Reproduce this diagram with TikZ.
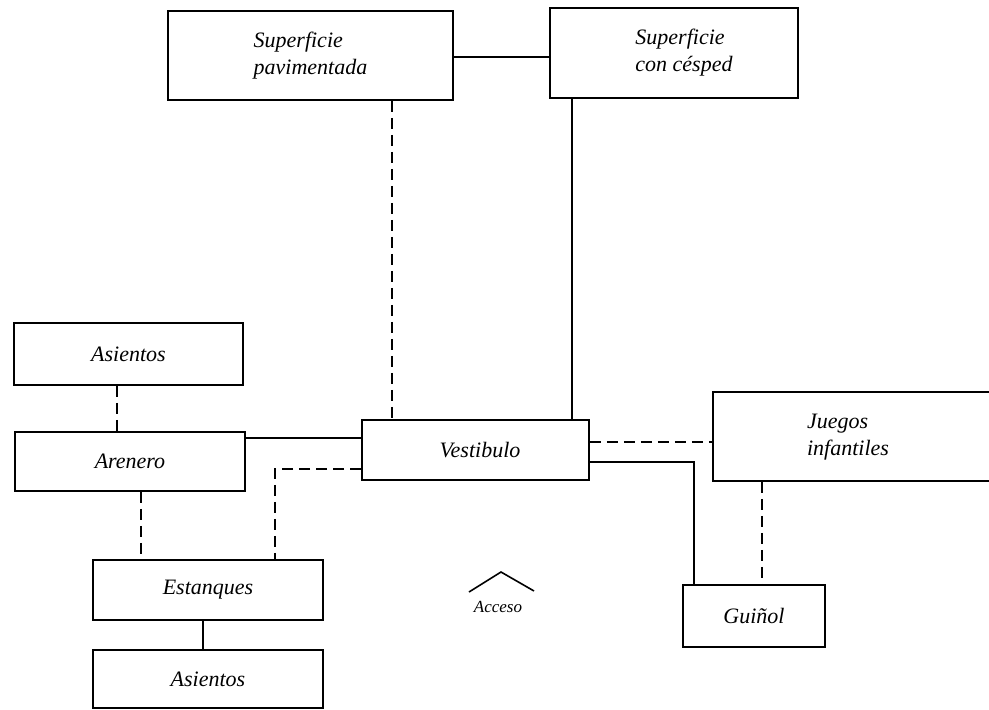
\documentclass[tikz,border=0pt]{standalone}
\usepackage{fontspec}
\setmainfont{Liberation Serif}
\begin{document}
\begin{tikzpicture}[x=1pt,y=-1pt,
  box/.style={draw,line width=1.6pt,rectangle,inner sep=0pt,font=\fontsize{22}{27}\selectfont\itshape,align=left},
  txt/.style={inner sep=0pt,font=\fontsize{22}{27}\selectfont\itshape,align=left},
  link/.style={line width=1.6pt},
  dlink/.style={line width=1.6pt,dash pattern=on 11pt off 6pt}]
\useasboundingbox (0,0) rectangle (989,710);
\begin{scope}
\clip (0,0) rectangle (989,710);
% boxes
\node[box,minimum width=285pt,minimum height=89pt] (pav) at (310.5,55.5) {Superficie\\pavimentada};
\node[box,minimum width=248pt,minimum height=90pt] (ces) at (674,53) {};
\node[txt] (cestxt) at (684,53) {Superficie\\con césped};
\node[box,minimum width=227pt,minimum height=60pt] (ves) at (475.5,450) {};
\node[txt] (vestxt) at (480,450) {Vestibulo};
\node[box,minimum width=229pt,minimum height=62pt] (asi1) at (128.5,354) {Asientos};
\node[box,minimum width=230pt,minimum height=59pt] (are) at (130,461.5) {Arenero};
\node[box,minimum width=230pt,minimum height=60pt] (est) at (208,590) {Estanques};
\node[box,minimum width=230pt,minimum height=58pt] (asi2) at (208,679) {Asientos};
\node[box,minimum width=300pt,minimum height=89pt] (jue) at (863,436.5) {};
\node[txt] (juetxt) at (848,437) {Juegos\\infantiles};
\node[box,minimum width=142pt,minimum height=62pt] (gui) at (754,616) {Guiñol};
% connectors
\draw[link] (pav.east |- 0,57) -- (ces.west |- 0,57);
\draw[dlink] (pav.south -| 392,0) -- (ves.north -| 392,0);
\draw[link] (ces.south -| 572,0) -- (ves.north -| 572,0);
\draw[dlink] (asi1.south -| 117,0) -- (are.north -| 117,0);
\draw[link] (are.east |- 0,438) -- (ves.west |- 0,438);
\draw[dlink] (ves.west |- 0,469) -| (est.north -| 275,0);
\draw[dlink] (are.south -| 141,0) -- (est.north -| 141,0);
\draw[link] (est.south -| 203,0) -- (asi2.north -| 203,0);
\draw[dlink] (ves.east |- 0,442) -- (jue.west |- 0,442);
\draw[link] (ves.east |- 0,462) -| (gui.north -| 694,0);
\draw[dlink] (jue.south -| 762,0) -- (gui.north -| 762,0);
% access mark
\coordinate (accl) at (469,592);
\coordinate (acct) at (501,572);
\coordinate (accr) at (534,591);
\draw[line width=1.6pt] (accl) -- (acct) -- (accr);
\node[inner sep=0pt,font=\fontsize{17}{20}\selectfont\itshape] (acc) at (498,607) {Acceso};
\end{scope}
\end{tikzpicture}
\end{document}
